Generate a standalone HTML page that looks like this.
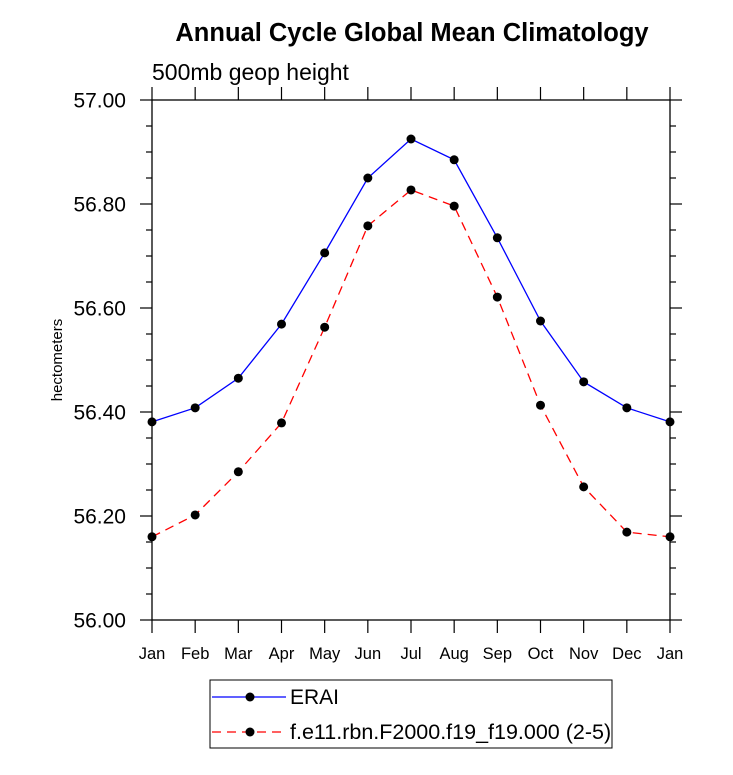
<!DOCTYPE html>
<html><head><meta charset="utf-8"><style>
body{margin:0;background:#fff;}
svg text{font-family:"Liberation Sans",Helvetica,sans-serif;}
</style></head><body>
<svg id="chart" width="733" height="770" xmlns="http://www.w3.org/2000/svg">
<text x="412" y="41" text-anchor="middle" font-size="25.5" font-weight="bold">Annual Cycle Global Mean Climatology</text>
<text x="152" y="80" font-size="23">500mb geop height</text>
<text transform="translate(62,360) rotate(-90)" text-anchor="middle" font-size="15">hectometers</text>
<g id="axes"></g>
<g id="series"></g>
<g>
<rect x="210" y="680" width="402" height="68" fill="none" stroke="#000" stroke-width="1"/>
<line x1="212" y1="697" x2="286" y2="697" stroke="#0000ff" stroke-width="1.3"/>
<circle cx="250" cy="697" r="4.5" fill="#000"/>
<text x="290" y="704" font-size="21">ERAI</text>
<line x1="212" y1="732" x2="286" y2="732" stroke="#ff0000" stroke-width="1.3" stroke-dasharray="9,6"/>
<circle cx="250" cy="732" r="4.5" fill="#000"/>
<text x="290" y="739" font-size="21.5">f.e11.rbn.F2000.f19_f19.000 (2-5)</text>
</g>
</svg>
<script>
const months=["Jan","Feb","Mar","Apr","May","Jun","Jul","Aug","Sep","Oct","Nov","Dec","Jan"];
const erai=[56.381,56.408,56.465,56.569,56.706,56.850,56.925,56.885,56.735,56.575,56.458,56.408,56.381];
const model=[56.160,56.202,56.285,56.379,56.563,56.758,56.827,56.796,56.621,56.413,56.256,56.169,56.160];
const yTicks=["56.00","56.20","56.40","56.60","56.80","57.00"];
const X0=152,X1=670,Y0=620,Y1=100,YMIN=56,YMAX=57;
const xs=i=>X0+(X1-X0)*i/(months.length-1);
const ys=v=>Y0-(v-YMIN)/(YMAX-YMIN)*(Y0-Y1);
const NS="http://www.w3.org/2000/svg";
function mk(t,a,p){const e=document.createElementNS(NS,t);for(const k in a)e.setAttribute(k,a[k]);p.appendChild(e);return e;}
const ax=document.getElementById('axes');
const frame=mk('rect',{x:X0,y:Y1,width:X1-X0,height:Y0-Y1,fill:'none',stroke:'#000','stroke-width':1.3},ax);


months.forEach((m,i)=>{
 const x=xs(i);
 mk('line',{x1:x,y1:Y0,x2:x,y2:Y0+13,stroke:'#000','stroke-width':1.2},ax);
 mk('line',{x1:x,y1:Y1,x2:x,y2:Y1-13,stroke:'#000','stroke-width':1.2},ax);
 const t=mk('text',{x:x,y:Y0+39,'text-anchor':'middle','font-size':16.5},ax);
 t.textContent=m;
 
 
});
for(let k=0;k<=20;k++){
 const v=YMIN+k*0.05,y=ys(v),maj=k%4==0,L=maj?12:6;
 mk('line',{x1:X0-L,y1:y,x2:X0,y2:y,stroke:'#000','stroke-width':1.2},ax);
 mk('line',{x1:X1,y1:y,x2:X1+L,y2:y,stroke:'#000','stroke-width':1.2},ax);
}
yTicks.forEach(s=>{
 const t=mk('text',{x:X0-26,y:ys(parseFloat(s))+7.5,'text-anchor':'end','font-size':21},ax);
 t.textContent=s;
 
 
});
const sg=document.getElementById('series');
function series(vals,color,dash,name){
 const pts=vals.map((v,i)=>xs(i)+','+ys(v)).join(' ');
 const pl=mk('polyline',{points:pts,fill:'none',stroke:color,'stroke-width':1.3},sg);
 if(dash)pl.setAttribute('stroke-dasharray',dash);
 
 
 vals.forEach((v,i)=>{
  const c=mk('circle',{cx:xs(i),cy:ys(v),r:4.5,fill:'#000'},sg);
  
  
 });
}
series(erai,'#0000ff',null,'erai');
series(model,'#ff0000','9,6','model');
</script>
</body></html>
